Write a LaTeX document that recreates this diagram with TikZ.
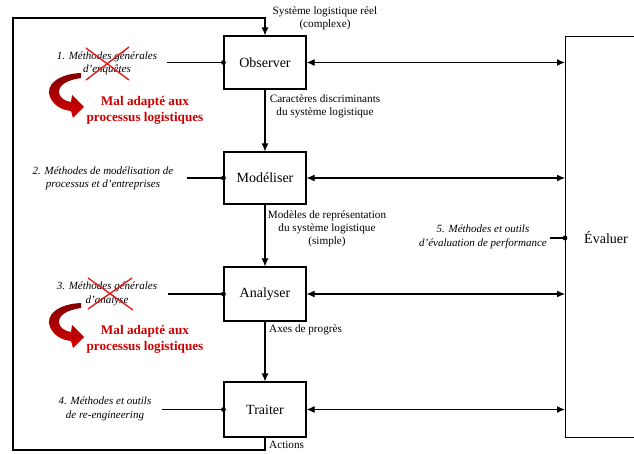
\documentclass[tikz,border=0pt]{standalone}
\usepackage{fontspec}
\setmainfont{Liberation Serif}
\usetikzlibrary{arrows.meta}
\definecolor{malred}{RGB}{204,0,0}
\definecolor{tailred}{RGB}{130,0,0}
\definecolor{headred}{RGB}{215,0,0}
\definecolor{crossred}{RGB}{225,30,30}
\begin{document}
\begin{tikzpicture}[x=1pt,y=-1pt,
  box/.style={draw, line width=1.1pt, minimum width=82pt, inner sep=0pt, font=\fontsize{14}{16}\selectfont},
  lbl/.style={align=center, font=\fontsize{11.2}{13}\selectfont, inner sep=0pt},
  ilbl/.style={align=center, font=\fontsize{11}{13.5}\selectfont\itshape, inner sep=0pt},
  redlbl/.style={align=center, text=malred, font=\fontsize{13.2}{15.5}\selectfont\bfseries, inner sep=0pt},
  conn/.style={line width=1.1pt},
  arr/.style={conn, -{Latex[length=8pt,width=7pt]}},
  darr/.style={conn, {Latex[length=8pt,width=7pt]}-{Latex[length=8pt,width=7pt]}},
  cross/.style={crossred, line width=1.4pt},
  malarrow/.pic={
    \shade[top color=tailred, bottom color=headred]
      (81,73) .. controls (58,74) and (45,85) .. (50,97)
      .. controls (54,106) and (62,110) .. (71,111)
      -- (73,118) -- (84,107) -- (72,95) -- (71,102)
      .. controls (64,101) and (59,97) .. (59,92)
      .. controls (59,85) and (67,80) .. (81,78) -- cycle;
  }
]
\useasboundingbox (0,0) rectangle (634,454);
\clip (0,0) rectangle (634,454);

% process boxes
\node[box, minimum height=53pt] (obs) at (265,62.5) {Observer};
\node[box, minimum height=52pt] (mod) at (265,178) {Modéliser};
\node[box, minimum height=54pt] (ana) at (265,294) {Analyser};
\node[box, minimum height=55pt] (tra) at (265,409.5) {Traiter};
\node[draw, line width=1.1pt, minimum width=90pt, minimum height=401pt, anchor=north west, inner sep=0pt] (eva) at (565,36) {};
\node[font=\fontsize{14}{16}\selectfont, inner sep=0pt] (evt) at (606,238) {Évaluer};

% feedback loop
\coordinate (bl) at (13,450);
\coordinate (tl) at (13,18);
\draw[arr] (tra.south) |- (bl) -- (tl) -| (obs.north);

% vertical flow
\draw[arr] (obs.south) -- (mod.north);
\draw[arr] (mod.south) -- (ana.north);
\draw[arr] (ana.south) -- (tra.north);

% links to Évaluer
\draw[darr] (obs.east) -- (obs.east -| eva.west);
\draw[darr] (mod.east) -- (mod.east -| eva.west);
\draw[darr] (ana.east) -- (ana.east -| eva.west);
\draw[darr] (tra.east) -- (tra.east -| eva.west);

% flow labels
\node[lbl] (sys) at (325,18.5) {Système logistique réel\\(complexe)};
\node[lbl] (car) at (325,106.5) {Caractères discriminants\\du système logistique};
\node[lbl] (mdl) at (327,229) {Modèles de représentation\\du système logistique\\(simple)};
\node[lbl, anchor=west] (axe) at (269,330) {Axes de progrès};
\node[lbl, anchor=west] (act) at (269,445) {Actions};

% method inputs
\node[ilbl] (m1) at (107,63.5) {1. Méthodes générales\\d'enquêtes};
\node[ilbl] (m2) at (103,178.5) {2. Méthodes de modélisation de\\processus et d'entreprises};
\node[ilbl] (m3) at (107,294) {3. Méthodes générales\\d'analyse};
\node[ilbl] (m4) at (105,409) {4. Méthodes et outils\\de re-engineering};
\node[ilbl] (m5) at (483,237) {5. Méthodes et outils\\d'évaluation de performance};

\coordinate (i1) at (167,62.5);
\coordinate (i2) at (187,178);
\coordinate (i3) at (168,294);
\coordinate (i4) at (162,409.5);
\coordinate (i5) at (550,238);
\draw[conn] (i1) -- (obs.west);
\draw[conn] (i2) -- (mod.west);
\draw[conn] (i3) -- (ana.west);
\draw[conn] (i4) -- (tra.west);
\draw[conn] (i5) -- (i5 -| eva.west);
\fill (obs.west) circle (2.4);
\fill (mod.west) circle (2.4);
\fill (ana.west) circle (2.4);
\fill (tra.west) circle (2.4);
\fill (i5 -| eva.west) circle (2.4);

% crosses
\draw[cross] (86,48) -- (129,80);
\draw[cross] (86,80) -- (129,47);
\draw[cross] (88,278) -- (133,310);
\draw[cross] (88,309) -- (132,278);

% "Mal adapté" remarks
\pic at (0,0) {malarrow};
\pic at (0,230) {malarrow};
\node[redlbl] (r1) at (145,110.5) {Mal adapté aux\\processus logistiques};
\node[redlbl] (r2) at (145,339.5) {Mal adapté aux\\processus logistiques};
\end{tikzpicture}
\end{document}
